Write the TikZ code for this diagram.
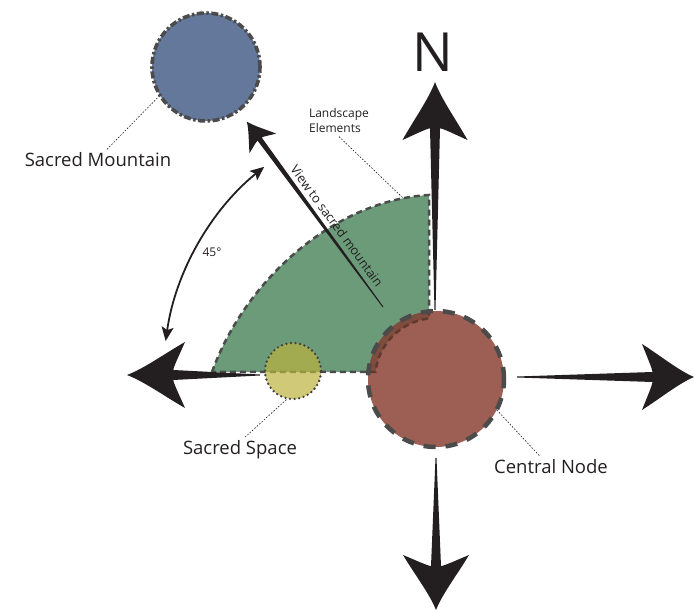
\documentclass[tikz,border=0pt]{standalone}
\usepackage{fontspec}
\setmainfont{Open Sans}
\usetikzlibrary{arrows.meta}
\definecolor{landgreen}{RGB}{108,155,122}
\definecolor{nodered}{RGB}{157,94,84}
\definecolor{overlapred}{RGB}{128,76,62}
\definecolor{mountblue}{RGB}{100,120,155}
\definecolor{spaceyellow}{RGB}{186,178,62}
\definecolor{edgegray}{RGB}{75,75,75}
\definecolor{inkblack}{RGB}{35,31,32}
\newcommand{\landscapepath}{(212,239) .. controls (245,331) and (335,411) .. (429,416) -- (429,292.6) arc[start angle=96.6,end angle=173.4,radius=61] -- cycle}
\newcommand{\needle}[4]{\fill (0,-0.5) -- ({#1-0.8*#2},-#4) .. controls ({#1-0.8*#2},{-1.6*#4}) and ({#1-0.9*#2},{-0.6*#3}) .. ({#1-#2},-#3)
    .. controls ({#1-0.65*#2},{-0.65*#3}) and ({#1-0.3*#2},{-0.2*#3}) .. (#1,0)
    .. controls ({#1-0.3*#2},{0.2*#3}) and ({#1-0.65*#2},{0.65*#3}) .. ({#1-#2},#3)
    .. controls ({#1-0.9*#2},{0.6*#3}) and ({#1-0.8*#2},{1.6*#4}) .. ({#1-0.8*#2},#4) -- (0,0.5) -- cycle;}
\begin{document}
\begin{tikzpicture}[x=1pt,y=1pt,
    leader/.style={inkblack,line width=0.6pt,dash pattern=on 1.6pt off 1.6pt},
    placename/.style={font=\fontsize{18.5}{22}\selectfont,text=inkblack}]
    \useasboundingbox (0,0) rectangle (694,611);

    \fill[landgreen] \landscapepath;
    \draw[edgegray,line width=2.5pt,dash pattern=on 6pt off 4pt] \landscapepath;
    \node[circle,minimum size=136pt,inner sep=0pt,fill=nodered] (central) at (436,232) {};
    \begin{scope}
        \clip (436,232) circle[radius=68];
        \fill[overlapred] \landscapepath;
        \draw[overlapred!75!black,line width=2.5pt,dash pattern=on 6pt off 4pt] \landscapepath;
    \end{scope}
    \draw[edgegray,line width=4.5pt,dash pattern=on 12pt off 10pt] (central.center) circle[radius=68];

    \node[circle,minimum size=56pt,inner sep=0pt,fill=spaceyellow,fill opacity=0.7,draw=inkblack!85,line width=2.6pt,line cap=round,dash pattern=on 0pt off 4.6pt] (space) at (293,240) {};
    \node[circle,minimum size=108pt,inner sep=0pt,fill=mountblue,draw=edgegray,line width=3.6pt,dash pattern=on 7pt off 2.5pt on 2.5pt off 2.5pt] (mountain) at (206,544) {};

    \begin{scope}[inkblack,shift={(435,301)},rotate=90] \needle{228}{58}{32.5}{5} \end{scope}
    \begin{scope}[inkblack,shift={(517,234)},rotate=0] \needle{177}{52}{33}{5} \end{scope}
    \begin{scope}[inkblack,shift={(436,153)},rotate=-90] \needle{152}{55}{33}{5} \end{scope}
    \begin{scope}[inkblack,shift={(260,236)},rotate=180] \needle{133}{58}{33}{5} \end{scope}

    \coordinate (viewfrom) at (383,304);
    \begin{scope}[inkblack,shift={(viewfrom)},rotate=126.3] \needle{230}{27}{16.5}{2.6} \end{scope}
    \node[font=\fontsize{12.7}{15}\selectfont,text=inkblack,rotate=-53.7] (viewtext) at (337,385) {View to sacred mountain};

    \draw[inkblack,line width=1.8pt,{Stealth[length=14pt,width=12pt,inset=3pt]}-{Stealth[length=14pt,width=12pt,inset=3pt]}] ([shift={(172:273)}]central.center) arc[start angle=172,end angle=129,radius=273];
    \node[font=\fontsize{12}{14}\selectfont,text=inkblack] (angle) at (212,359) {45°};

    \node[font=\fontsize{54}{60}\selectfont,text=inkblack] (north) at (433,559) {N};
    \node[placename] (mountlabel) at (98,451) {Sacred Mountain};
    \node[placename] (spacelabel) at (240,161) {Sacred Space};
    \node[placename] (centrallabel) at (551,144) {Central Node};
    \node[font=\fontsize{12}{15}\selectfont,align=left,text=inkblack] (landlabel) at (339,490) {Landscape\\Elements};
    \coordinate (landedge) at (403,413);

    \draw[leader] ([xshift=9pt]mountlabel.north) -- (mountain.212);
    \draw[leader] ([xshift=5pt]spacelabel.north) -- (space.257);
    \draw[leader] (central.333) -- ([xshift=-11pt]centrallabel.north);
    \draw[leader] (landlabel.south) -- (landedge);
\end{tikzpicture}
\end{document}
